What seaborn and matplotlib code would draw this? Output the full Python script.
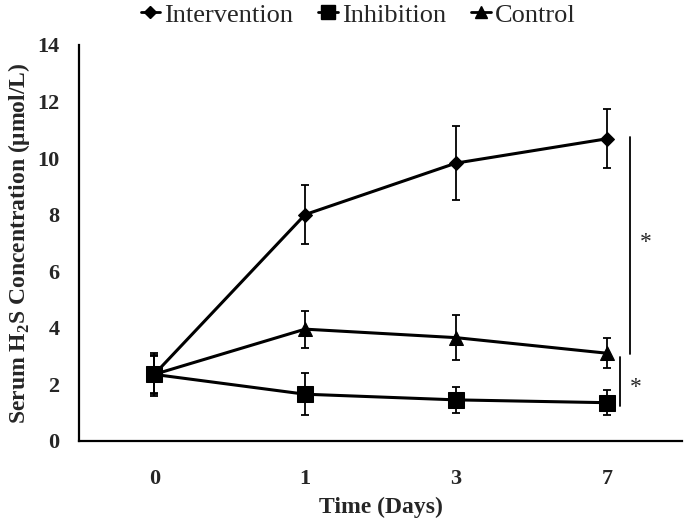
import numpy as np
import pandas as pd
import matplotlib
matplotlib.use('Agg')
import matplotlib.pyplot as plt
from matplotlib.lines import Line2D
import seaborn as sns

# data
days = ['0', '1', '3', '7']
groups = ['Intervention', 'Inhibition', 'Control']
intervention_mean = [2.35, 8.0, 9.82, 10.68]
intervention_err = [0.75, 1.03, 1.32, 1.05]
inhibition_mean = [2.35, 1.65, 1.45, 1.35]
inhibition_err = [0.65, 0.75, 0.46, 0.44]
control_mean = [2.35, 3.95, 3.65, 3.1]
control_err = [0.7, 0.65, 0.8, 0.52]

means = {'Intervention': intervention_mean, 'Inhibition': inhibition_mean,
         'Control': control_mean}
errs = {'Intervention': intervention_err, 'Inhibition': inhibition_err,
        'Control': control_err}
markers = {'Intervention': 'D', 'Inhibition': 's', 'Control': '^'}
msizes = {'Intervention': 7.5, 'Inhibition': 11, 'Control': 10}

rows = []
for g in groups:
    for i, d in enumerate(days):
        rows.append({'pos': i, 'day': d, 'group': g, 'value': means[g][i]})
df = pd.DataFrame(rows)

sns.set_style('white')
plt.rcParams['font.family'] = ['Liberation Serif', 'DejaVu Serif']
plt.rcParams['mathtext.fontset'] = 'custom'
plt.rcParams['mathtext.bf'] = 'Liberation Serif:bold'
plt.rcParams['mathtext.rm'] = 'Liberation Serif:bold'

fig, ax = plt.subplots(figsize=(6.85, 5.28), dpi=100)
fig.subplots_adjust(left=0.115, right=0.996, bottom=0.165, top=0.915)

for g in groups:
    sub = df[df['group'] == g]
    sns.lineplot(data=sub, x='pos', y='value', color='black', lw=2.2,
                 marker=markers[g], markersize=msizes[g],
                 markeredgecolor='black', ax=ax, legend=False, zorder=3)
    ax.errorbar(sub['pos'], sub['value'], yerr=errs[g], fmt='none',
                ecolor='black', elinewidth=1.3, capsize=2.8, capthick=1.3,
                zorder=2)

# significance brackets
ax.plot([3.155, 3.155], [3.07, 10.74], color='black', lw=1.3)
ax.text(3.255, 7.0, '*', fontsize=17, ha='center', va='center')
ax.plot([3.089, 3.089], [1.24, 2.97], color='black', lw=1.3)
ax.text(3.19, 1.9, '*', fontsize=17, ha='center', va='center')

ax.set_xlim(-0.5, 3.5)
ax.set_ylim(0, 14)
ax.set_yticks(np.arange(0, 15, 2))
ax.set_xticks([-0.5, 0.5, 1.5, 2.5, 3.5])
ax.set_xticklabels([])
ax.set_xticks(range(len(days)), minor=True)
ax.set_xticklabels(days, minor=True)
ax.tick_params(axis='x', which='major', direction='out', length=5, width=1.5)
ax.tick_params(axis='x', which='minor', length=0, pad=20, labelsize=16)
ax.tick_params(axis='y', direction='out', length=6, width=1.5, labelsize=16,
               pad=8)
for lbl in ax.get_xticklabels(minor=True) + ax.get_yticklabels():
    lbl.set_fontweight('bold')

sns.despine(ax=ax)
for s in ['left', 'bottom']:
    ax.spines[s].set_linewidth(1.6)
    ax.spines[s].set_color('black')

ax.set_xlabel('Time (Days)', fontsize=17, fontweight='bold', labelpad=6)
ax.set_ylabel(r'Serum H$_{2}$S Concentration ($\mathbf{\mu}$mol/L)',
              fontsize=17, fontweight='bold', labelpad=4)

handles = [Line2D([], [], color='black', lw=2, marker=markers[g],
                  markersize=msizes[g] - 1) for g in groups]
ax.legend(handles, groups, ncol=3, loc='center', bbox_to_anchor=(0.463, 1.076),
          frameon=False, fontsize=19, handlelength=0.75, handletextpad=0.15,
          columnspacing=0.95, borderaxespad=0)

plt.savefig('out.png', dpi=100)
plt.close()
